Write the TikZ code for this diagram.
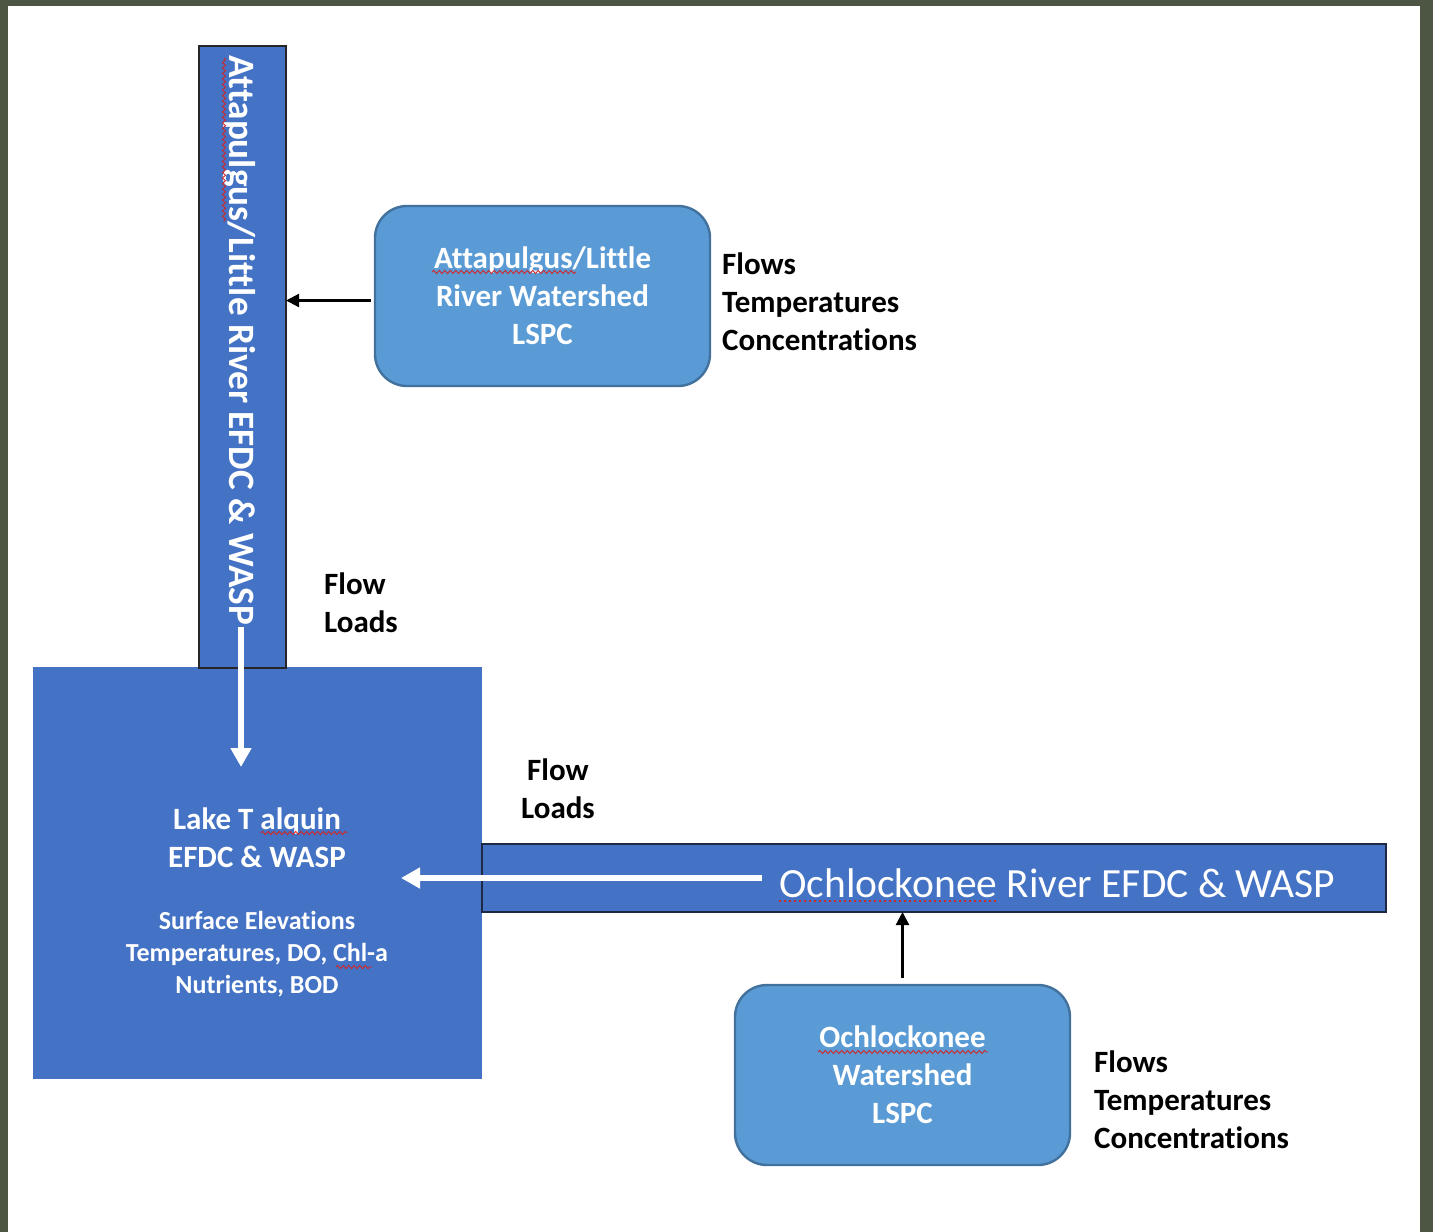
\documentclass[tikz,border=0pt]{standalone}
\usepackage{fontspec}
\setmainfont[RawFeature={-liga}]{Carlito}
\usetikzlibrary{arrows.meta,decorations.pathmorphing,calc}
\definecolor{barblue}{HTML}{4472C4}
\definecolor{boxblue}{HTML}{5B9BD5}
\definecolor{boxedge}{HTML}{41719C}
\definecolor{bgolive}{HTML}{4D5642}
\definecolor{squig}{HTML}{D02828}
\definecolor{baredge}{HTML}{1E2A44}
\begin{document}
\begin{tikzpicture}[x=1pt,y=-1pt,
  bar/.style={draw=baredge, line width=2.2pt, fill=barblue, inner sep=0pt, outer sep=0pt},
  lakebox/.style={fill=barblue, draw=none, inner sep=0pt, outer sep=0pt},
  wsbox/.style={draw=boxedge, line width=2.4pt, fill=boxblue, rounded corners=32pt,
    minimum width=335pt, minimum height=180pt, inner sep=0pt, outer sep=0pt,
    text=white, align=center, font=\bfseries\fontsize{31}{38}\selectfont},
  lbl/.style={inner sep=0pt, font=\bfseries\fontsize{31}{38}\selectfont, text=black},
  whitearrow/.style={draw=white, line width=6pt, -{Triangle[width=20pt,length=19pt]}},
  blackarrow/.style={draw=black, line width=2.2pt, -{Triangle[width=13pt,length=13pt]}},
  squiggle/.style={draw=squig, line width=0.9pt, decorate,
    decoration={snake, amplitude=1.6pt, segment length=5.5pt}}]
% background
\fill[bgolive] (0,0) rectangle (1433,1232);
\fill[white] (8,6) rectangle (1420,1232);
% Lake Talquin box
\node[lakebox, minimum width=449pt, minimum height=412pt] (lake) at (257.5,873) {};
% Ochlockonee river bar
\node[bar, minimum width=904pt, minimum height=68pt] (hbar) at (934,878) {};
% Attapulgus river bar
\node[bar, draw=black!85, minimum width=87pt, minimum height=622pt] (vbar) at (242.5,357) {};
% watershed boxes
\node[wsbox] (attbox) at (542.5,296) {Attapulgus/Little\\River Watershed\\LSPC};
\node[wsbox] (ochbox) at (902.5,1075) {Ochlockonee\\Watershed\\LSPC};
% texts
\node[rotate=-90, anchor=base west, inner sep=0pt, text=white,
  font=\bfseries\fontsize{37.2}{44}\selectfont] (vtext) at (229,55)
  {Attapulgus/Little River EFDC \& WASP};
\node[anchor=base west, inner sep=0pt, text=white,
  font=\fontsize{41.5}{50}\selectfont] (htext) at (779,897)
  {Ochlockonee River EFDC \& WASP};
\node[inner sep=0pt, text=white, align=center,
  font=\bfseries\fontsize{31}{38}\selectfont] (laketitle) at (257,838)
  {Lake T alquin\\EFDC \& WASP};
\node[inner sep=0pt, text=white, align=center,
  font=\bfseries\fontsize{26}{32}\selectfont] (lakesub) at (257,954)
  {Surface Elevations\\Temperatures, DO, Chl-a\\Nutrients, BOD};
\node[lbl, anchor=west, align=left] (attlbl) at (722,302) {Flows\\Temperatures\\Concentrations};
\node[lbl, anchor=west, align=left] (ochlbl) at (1094,1100) {Flows\\Temperatures\\Concentrations};
\node[lbl, anchor=west, align=left] (vflow) at (324,603) {Flow\\Loads};
\node[lbl, align=center] (hflow) at (558,789) {Flow\\Loads};
% connectors
\coordinate (va1) at (241,627);
\coordinate (va2) at (241,767);
\draw[whitearrow] (va1) -- (va2);
\coordinate (ha1) at (762,878);
\coordinate (ha2) at (401,878);
\draw[whitearrow] (ha1) -- (ha2);
\coordinate (attout) at ($(attbox.west)+(0,4.5)$);
\draw[blackarrow, shorten <=4pt] (attout) -- (attout -| vbar.east);
\draw[blackarrow, shorten <=7pt] (ochbox.north) -- (ochbox.north |- hbar.south);
% spell-check underlines
\draw[squiggle] (224,58) -- (224,222);
\draw[squiggle] (432,272) -- (576,272);
\draw[squiggle] (261,833) -- (347,833);
\draw[squiggle] (336,967) -- (372,967);
\draw[squiggle] (818,1052) -- (988,1052);
\draw[draw=squig, line width=1.2pt, dash pattern=on 2pt off 3pt] (779,901) -- (997,901);
\end{tikzpicture}
\end{document}
